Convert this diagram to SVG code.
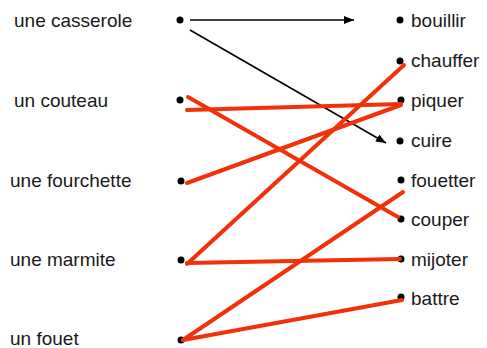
<svg xmlns="http://www.w3.org/2000/svg" width="487" height="348" viewBox="0 0 487 348">
<style>
text{font-family:"Liberation Sans",Arial,sans-serif;font-size:19px;fill:#1a1a1a}
.dot{fill:#000}
.blk{stroke:#000;stroke-width:1.6;fill:none}
.red{stroke:#f2300a;stroke-width:4;fill:none;stroke-linecap:round}
</style>
<defs>
<marker id="ah" viewBox="0 0 10 8" refX="10" refY="4" markerWidth="10" markerHeight="8" markerUnits="userSpaceOnUse" orient="auto">
<path d="M0,0 L10,4 L0,8 Z" fill="#000"/>
</marker>
</defs>
<rect width="487" height="348" fill="#fff"/>
<g id="left-casserole"><text x="14" y="27">une casserole</text><circle class="dot" cx="180" cy="20" r="3.5"/></g>
<g id="left-couteau"><text x="14" y="107">un couteau</text><circle class="dot" cx="180" cy="100" r="3.5"/></g>
<g id="left-fourchette"><text x="10" y="187">une fourchette</text><circle class="dot" cx="181" cy="181" r="3.5"/></g>
<g id="left-marmite"><text x="10" y="266">une marmite</text><circle class="dot" cx="181" cy="260" r="3.5"/></g>
<g id="left-fouet"><text x="10" y="345">un fouet</text><circle class="dot" cx="181" cy="340" r="3.5"/></g>
<g id="right-bouillir"><circle class="dot" cx="400" cy="20" r="3.5"/><text x="411" y="27">bouillir</text></g>
<g id="right-chauffer"><circle class="dot" cx="400" cy="61" r="3.5"/><text x="411" y="67">chauffer</text></g>
<g id="right-piquer"><circle class="dot" cx="401" cy="100" r="3.5"/><text x="411" y="107">piquer</text></g>
<g id="right-cuire"><circle class="dot" cx="400" cy="141" r="3.5"/><text x="411" y="147">cuire</text></g>
<g id="right-fouetter"><circle class="dot" cx="401" cy="180" r="3.5"/><text x="411" y="187">fouetter</text></g>
<g id="right-couper"><circle class="dot" cx="401" cy="219" r="3.5"/><text x="411" y="226">couper</text></g>
<g id="right-mijoter"><circle class="dot" cx="401" cy="259" r="3.5"/><text x="411" y="266">mijoter</text></g>
<g id="right-battre"><circle class="dot" cx="401" cy="297" r="3.5"/><text x="411" y="305">battre</text></g>
<g id="connectors">
<line class="blk" x1="190" y1="20" x2="354" y2="20" marker-end="url(#ah)"/>
<line class="blk" x1="190" y1="30" x2="386" y2="143" marker-end="url(#ah)"/>
<line class="red" x1="188" y1="97" x2="398" y2="217"/>
<line class="red" x1="187" y1="110" x2="401" y2="104"/>
<line class="red" x1="187" y1="183" x2="401" y2="105"/>
<line class="red" x1="187" y1="264" x2="404" y2="65"/>
<line class="red" x1="187" y1="263" x2="400" y2="259"/>
<line class="red" x1="183" y1="340" x2="403" y2="192"/>
<line class="red" x1="183" y1="340" x2="402" y2="300"/>
</g>
</svg>
